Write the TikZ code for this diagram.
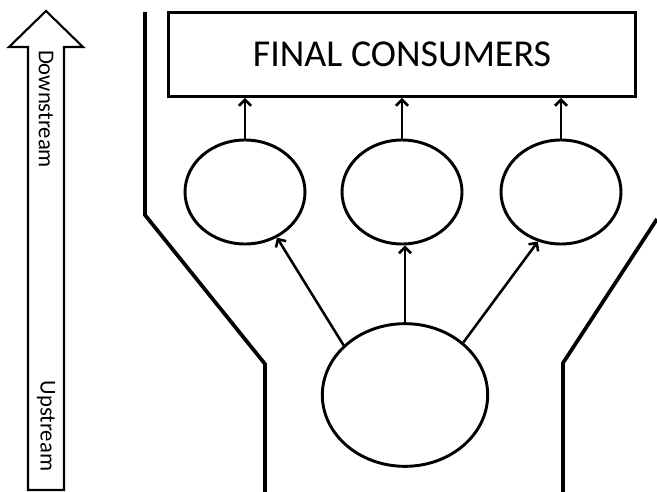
\documentclass[tikz,border=0pt]{standalone}
\usepackage{fontspec}
\setmainfont{Carlito}
\usetikzlibrary{arrows.meta,shapes.geometric}

\newcommand*{\pw}{657}
\newcommand*{\ph}{492}

\begin{document}
\begin{tikzpicture}
[
	x=0.75pt,y=-0.75pt,
	firm/.style={ellipse,draw,line width=2.2pt,inner sep=0pt,minimum width=90pt,minimum height=78pt},
	bigfirm/.style={ellipse,draw,line width=2.2pt,inner sep=0pt,minimum width=124pt,minimum height=107pt},
	flow/.style={-{Straight Barb[length=4.5pt,width=9pt]},line width=1.9pt},
	wall/.style={line width=2.8pt},
	dirlabel/.style={rotate=-90,font=\fontsize{17}{20}\selectfont}
]

	\useasboundingbox (0,0) rectangle (\pw,\ph);

	% direction arrow
	\draw[line width=1.6pt,line join=miter]
	  (46,11) -- (83,47) -- (64,47) -- (64,490) -- (28,490) -- (28,47) -- (9,47) -- cycle;
	\node[dirlabel] (down) at (46,109) {Downstream};
	\node[dirlabel] (up) at (46,426) {Upstream};

	% funnel
	\draw[wall] (145,12) -- (145,215) -- (265,364) -- (265,\ph);
	\draw[wall] (\pw,219) -- (563,363) -- (563,\ph);

	% consumers
	\node[draw,line width=2.2pt,minimum width=350pt,minimum height=63pt,
	  font=\fontsize{28.5}{32}\selectfont] (final) at (402,54.5) {FINAL CONSUMERS};

	% firms
	\node[firm] (c1) at (245,192) {};
	\node[firm] (c2) at (402,192) {};
	\node[firm] (c3) at (561,192) {};
	\node[bigfirm] (src) at (405,395) {};

	\foreach \n in {c1,c2,c3}
	  \draw[flow] (\n.north) -- (\n.north |- final.south);

	\draw[flow] (src.141) -- (c1.-55);
	\draw[flow] (src.north) -- (src.north |- c2.south);
	\draw[flow] (src.42) -- (c3.-115);

\end{tikzpicture}
\end{document}
